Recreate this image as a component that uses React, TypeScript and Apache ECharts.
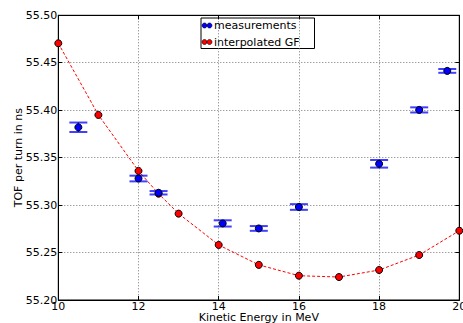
import React, { useEffect, useRef } from "react";
import * as echarts from "echarts";

const gfX = [10, 11, 12, 12.5, 13, 14, 15, 16, 17, 18, 19, 20];
const gfY = [55.4705, 55.395, 55.336, 55.312, 55.291, 55.258, 55.237, 55.2256, 55.2242, 55.2316, 55.2474, 55.273];

const measX = [10.5, 12, 12.5, 14.1, 15, 16, 18, 19, 19.7];
const measY = [55.382, 55.328, 55.313, 55.2807, 55.2754, 55.298, 55.3435, 55.4003, 55.4414];
const measErr = [0.005, 0.003, 0.0018, 0.0033, 0.0025, 0.003, 0.004, 0.0027, 0.002];

const xTicks = [10, 12, 14, 16, 18, 20];
const yTicks = [55.2, 55.25, 55.3, 55.35, 55.4, 55.45, 55.5];

const legendLabels = ["measurements", "interpolated GF"];
const FONT = "DejaVu Sans";

export default function App() {
  const ref = useRef<HTMLDivElement>(null);
  useEffect(() => {
    if (!ref.current) return;
    const chart = echarts.init(ref.current, null, { renderer: "svg" });
    const gridLine = { show: true, lineStyle: { color: "#777", type: [1, 2], width: 1 } };
    const tickInside = { show: true, inside: true, length: 4, lineStyle: { color: "#000" } };
    const option: any = {
      animation: false,
      backgroundColor: "#fff",
      grid: {
        left: 58.3, right: 3.7, top: 15.3, bottom: 23, show: true, borderColor: "#000", borderWidth: 1,
        backgroundColor: "transparent", containLabel: false, outerBoundsMode: "none",
      },
      xAxis: [
        {
          type: "value", min: xTicks[0], max: xTicks[xTicks.length - 1], interval: 2,
          axisLine: { show: true, lineStyle: { color: "#000" } },
          axisTick: tickInside,
          splitLine: gridLine,
          axisLabel: { color: "#000", fontFamily: FONT, fontSize: 11, margin: 1, lineHeight: 11 },
          name: "Kinetic Energy in MeV", nameLocation: "middle", nameGap: 12, nameMoveOverlap: false,
          nameTextStyle: { color: "#000", fontFamily: FONT, fontSize: 11, lineHeight: 11 },
        },
        {
          type: "value", position: "top", min: 10, max: 20, interval: 2,
          axisLine: { show: true, lineStyle: { color: "#000" } },
          axisTick: tickInside, axisLabel: { show: false }, splitLine: { show: false },
        },
      ],
      yAxis: [
        {
          type: "value", min: yTicks[0], max: yTicks[yTicks.length - 1], interval: 0.05,
          axisLine: { show: true, lineStyle: { color: "#000" } },
          axisTick: tickInside,
          splitLine: gridLine,
          axisLabel: { color: "#000", fontFamily: FONT, fontSize: 11, margin: 1, formatter: (v: number) => v.toFixed(2) },
          name: "TOF per turn in ns", nameLocation: "middle", nameGap: 34, nameRotate: 90, nameMoveOverlap: false,
          nameTextStyle: { color: "#000", fontFamily: FONT, fontSize: 11 },
        },
        {
          type: "value", position: "right", min: 55.2, max: 55.5, interval: 0.05,
          axisLine: { show: true, lineStyle: { color: "#000" } },
          axisTick: tickInside, axisLabel: { show: false }, splitLine: { show: false },
        },
      ],
      series: [
        {
          name: legendLabels[1],
          type: "line",
          data: gfX.map((x, i) => [x, gfY[i]]),
          lineStyle: { color: "#ff0000", width: 1, type: [3, 2] },
          symbol: "circle", symbolSize: 7,
          itemStyle: { color: "#ff0000", borderColor: "#000", borderWidth: 1 },
          z: 2,
        },
        {
          type: "custom",
          data: measX.map((x, i) => [x, measY[i], measErr[i]]),
          renderItem: (params: any, api: any) => {
            const x = api.value(0), y = api.value(1), e = api.value(2);
            const lo = api.coord([x, y - e]);
            const hi = api.coord([x, y + e]);
            const hw = 9;
            return {
              type: "group",
              children: [
                { type: "line", shape: { x1: lo[0], y1: lo[1], x2: hi[0], y2: hi[1] }, style: { stroke: "#0000ff", lineWidth: 1.5 } },
                { type: "line", shape: { x1: lo[0] - hw, y1: lo[1], x2: lo[0] + hw, y2: lo[1] }, style: { stroke: "rgba(0,0,255,0.75)", lineWidth: 2 } },
                { type: "line", shape: { x1: hi[0] - hw, y1: hi[1], x2: hi[0] + hw, y2: hi[1] }, style: { stroke: "rgba(0,0,255,0.75)", lineWidth: 2 } },
              ],
            };
          },
          z: 3,
        },
        {
          name: legendLabels[0],
          type: "scatter",
          data: measX.map((x, i) => [x, measY[i]]),
          symbol: "circle", symbolSize: 7,
          itemStyle: { color: "#0000ff", borderColor: "#000", borderWidth: 1, opacity: 1 },
          z: 4,
        },
      ],
      graphic: [
        {
          type: "group", left: 200.5, top: 17.5, z: 100,
          children: [
            { type: "rect", shape: { x: 0, y: 0, width: 113.5, height: 30.5 }, style: { fill: "#fff", stroke: "#000", lineWidth: 1 } },
            { type: "circle", shape: { cx: 3.5, cy: 7.5, r: 2.5 }, style: { fill: "#0000ff", stroke: "#000", lineWidth: 0.6 } },
            { type: "circle", shape: { cx: 8.5, cy: 7.5, r: 2.5 }, style: { fill: "#0000ff", stroke: "#000", lineWidth: 0.6 } },
            { type: "text", x: 13, y: 7.5, style: { text: legendLabels[0], fill: "#000", font: `11px '${FONT}'`, textVerticalAlign: "middle" } },
            { type: "circle", shape: { cx: 3.5, cy: 24, r: 2.5 }, style: { fill: "#ff0000", stroke: "#000", lineWidth: 0.6 } },
            { type: "circle", shape: { cx: 8.5, cy: 24, r: 2.5 }, style: { fill: "#ff0000", stroke: "#000", lineWidth: 0.6 } },
            { type: "text", x: 13, y: 24, style: { text: legendLabels[1], fill: "#000", font: `11px '${FONT}'`, textVerticalAlign: "middle" } },
          ],
        },
      ],
    };
    chart.setOption(option);
    return () => chart.dispose();
  }, []);
  return (
    <div
      ref={ref}
      style={{ position: "fixed", left: 0, top: 0, width: 463, height: 323, background: "#fff" }}
    />
  );
}
